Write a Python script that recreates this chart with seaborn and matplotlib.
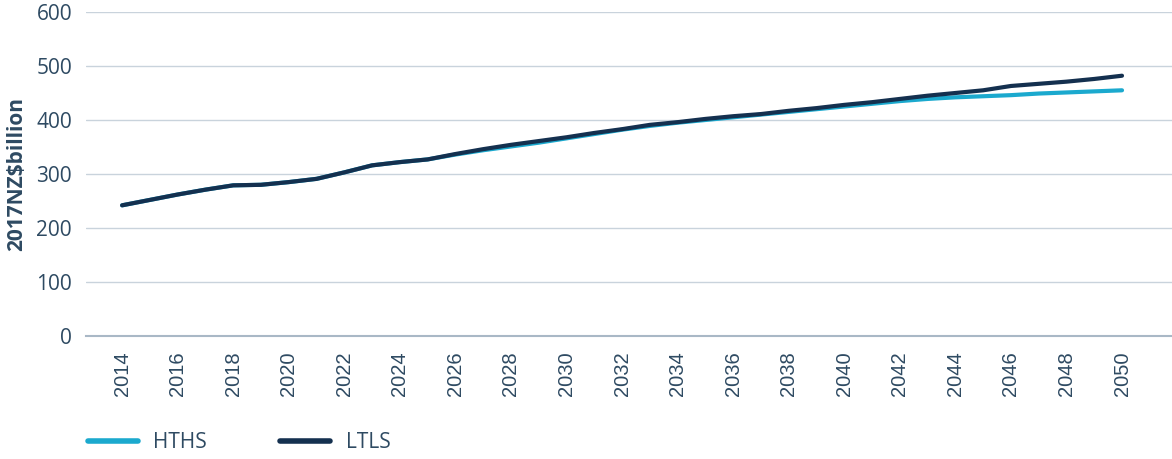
import matplotlib
matplotlib.use("Agg")
import matplotlib.pyplot as plt
import seaborn as sns
import pandas as pd
from matplotlib.lines import Line2D

years = list(range(2014, 2051))
ltls = [242, 252, 262, 271, 279, 280, 285, 291, 303, 316, 322, 327, 337, 346, 354, 361,
        368, 376, 383, 391, 396, 402, 407, 411, 417, 422, 428, 433, 439, 445, 450, 455,
        463, 467, 471, 476, 482]
hths = [242, 252, 262, 271, 279, 280, 285, 291, 303, 316, 322, 327, 336, 344, 351, 358,
        366, 374, 382, 389, 395, 400, 405, 410, 415, 420, 425, 430, 435, 439, 442, 444,
        446, 449, 451, 453, 455]
series_names = ["HTHS", "LTLS"]
y_ticks = [0, 100, 200, 300, 400, 500, 600]
y_label = "2017NZ$billion"

colors = {"HTHS": "#1BA9CE", "LTLS": "#14304F"}
text_color = "#2E4A62"

df = pd.DataFrame({"year": years * 2,
                   "value": hths + ltls,
                   "series": ["HTHS"] * len(years) + ["LTLS"] * len(years)})

sns.set_style("white")
plt.rcParams["font.family"] = ["Open Sans", "DejaVu Sans"]

fig = plt.figure(figsize=(11.72, 4.59), dpi=100)
ax = fig.add_axes([86 / 1172, 1 - 336 / 459, (1172 - 86) / 1172, (336 - 12) / 459])

sns.lineplot(data=df, x="year", y="value", hue="series", palette=colors,
             hue_order=series_names, linewidth=3, ax=ax, legend=False)

ax.set_ylim(0, 600)
ax.set_yticks(y_ticks)
ax.set_xlim(2012.7, 2051.8)
ax.set_xticks(list(range(2014, 2051, 2)))
ax.tick_params(axis="x", labelrotation=90, colors=text_color, length=0, pad=11)
ax.tick_params(axis="y", labelsize=15, colors=text_color, length=0, pad=10)
for lbl in ax.get_xticklabels():
    lbl.set_fontfamily(["Liberation Sans", "DejaVu Sans"])
    lbl.set_fontsize(14.5)
ax.grid(axis="y", color="#C9D3DC", linewidth=1)
ax.grid(axis="x", visible=False)
for s in ["top", "right", "left"]:
    ax.spines[s].set_visible(False)
ax.spines["bottom"].set_color("#A9B8C6")
ax.spines["bottom"].set_linewidth(1.5)
ax.set_xlabel("")
ax.set_ylabel(y_label, fontsize=15, fontweight="bold", color=text_color)
ax.yaxis.set_label_coords(-59 / 1086, 0.5)

handles = [Line2D([0], [0], color=colors[n], linewidth=4) for n in series_names]
fig.legend(handles, series_names, loc="center left", bbox_to_anchor=(69 / 1172, 1 - 443 / 459),
           ncol=2, frameon=False, fontsize=15, handlelength=2.4, columnspacing=3.5,
           labelcolor=text_color, handletextpad=0.75)

fig.savefig("out.png", dpi=100)
